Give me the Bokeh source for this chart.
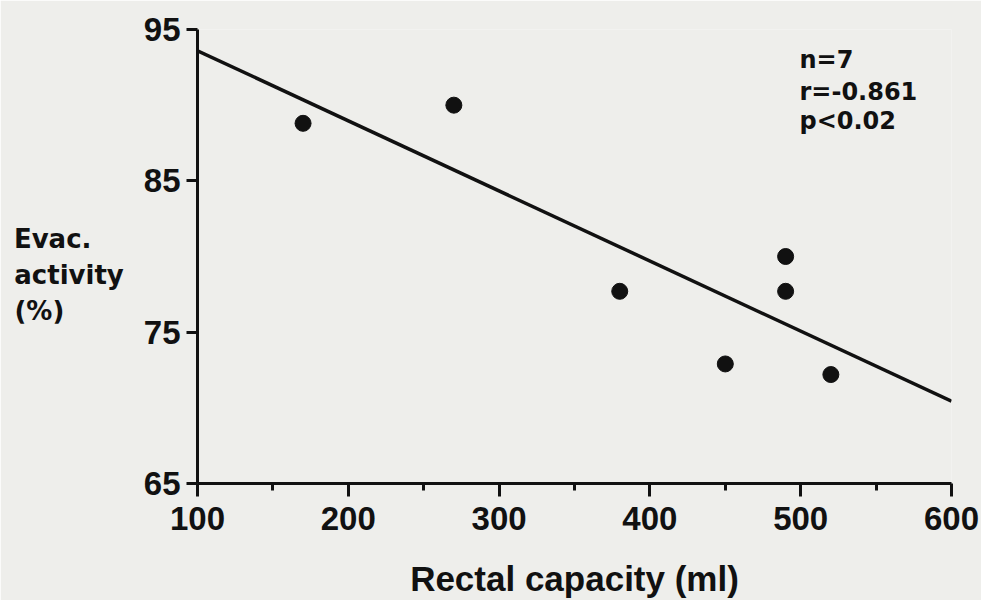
import numpy as np
from bokeh.plotting import figure
from bokeh.models import Range1d, FixedTicker, Label
from bokeh.embed import file_html
from bokeh.resources import INLINE

# ---- data ----
capacity_ml = [170, 270, 380, 450, 490, 490, 520]
evac_activity = [88.8, 90.0, 77.7, 72.9, 80.0, 77.7, 72.2]
x_ticks = [100, 200, 300, 400, 500, 600]
x_minor_ticks = [150, 250, 350, 450, 550]
y_ticks = [65, 75, 85, 95]
stats_lines = ["n=7", "r=-0.861", "p<0.02"]
ylabel_lines = ["Evac.", "activity", "(%)"]
x_title = "Rectal capacity (ml)"
x_lim = (100, 600)
y_lim = (65, 95)

# least-squares regression line through the points
slope, intercept = np.polyfit(capacity_ml, evac_activity, 1)
fit_x = list(x_lim)
fit_y = [slope * v + intercept for v in fit_x]

INK = "#111111"
PAPER = "#eeeeeb"
FW, FH = 981, 600
L, T, R, B = 197, 29, 30, 114
W, H = FW - L - R, FH - T - B

p = figure(width=FW, height=FH, output_backend="svg", toolbar_location=None,
           x_range=Range1d(*x_lim), y_range=Range1d(*y_lim),
           min_border_left=L, min_border_right=R, min_border_top=T, min_border_bottom=B)
p.background_fill_color = PAPER
p.border_fill_color = PAPER
p.outline_line_color = None
p.grid.visible = False

# x axis
xa = p.xaxis[0]
xa.ticker = FixedTicker(ticks=x_ticks, minor_ticks=x_minor_ticks)
xa.axis_line_width = 3
xa.axis_line_color = INK
xa.major_tick_line_width = 3
xa.major_tick_line_color = INK
xa.minor_tick_line_width = 3
xa.minor_tick_line_color = INK
xa.major_tick_out = 13
xa.major_tick_in = 0
xa.minor_tick_out = 7
xa.minor_tick_in = 0
xa.major_label_text_font = "Liberation Sans"
xa.major_label_text_font_style = "bold"
xa.major_label_text_font_size = "33px"
xa.major_label_text_color = INK
xa.major_label_standoff = 10
xa.axis_label = x_title
xa.axis_label_text_font = "Liberation Sans"
xa.axis_label_text_font_style = "bold"
xa.axis_label_text_font_size = "35px"
xa.axis_label_text_color = INK
xa.axis_label_standoff = 26

# y axis: multi-line horizontal label; lines padded with non-collapsing
# spaces so that they line up on the left like the reference
NBSP, THIN = "\u00a0", "\u2009"
ylabel_padded = [
    ylabel_lines[0] + NBSP * 3 + THIN,
    ylabel_lines[1],
    ylabel_lines[2] + NBSP * 6 + THIN,
]
ya = p.yaxis[0]
ya.ticker = FixedTicker(ticks=y_ticks, minor_ticks=[])
ya.axis_line_width = 3
ya.axis_line_color = INK
ya.major_tick_line_width = 3
ya.major_tick_line_color = INK
ya.major_tick_out = 11
ya.major_tick_in = 0
ya.minor_tick_line_color = None
ya.major_label_text_font = "Liberation Sans"
ya.major_label_text_font_style = "bold"
ya.major_label_text_font_size = "33px"
ya.major_label_text_color = INK
ya.major_label_standoff = 6
ya.axis_label = "\n" + "\n".join(ylabel_padded)
ya.axis_label_orientation = "horizontal"
ya.axis_label_text_font = "DejaVu Sans"
ya.axis_label_text_font_style = "bold"
ya.axis_label_text_font_size = "26px"
ya.axis_label_text_color = INK
ya.axis_label_standoff = 17

# regression line and points
p.line(fit_x, fit_y, line_width=3.5, line_color=INK)
p.scatter(capacity_ml, evac_activity, size=16, fill_color=INK, line_color=INK)

# helpers: figure pixel -> data coordinate (for text placement)
def dx(px):
    return x_lim[0] + (px - L) / W * (x_lim[1] - x_lim[0])

def dy(py):
    return y_lim[1] - (py - T) / H * (y_lim[1] - y_lim[0])

stats_centres = [60, 92, 121]
for txt, cy in zip(stats_lines, stats_centres):
    p.add_layout(Label(x=dx(799), y=dy(cy), text=txt,
                       text_font="DejaVu Sans", text_font_style="bold",
                       text_font_size="24px", text_color=INK,
                       text_align="left", text_baseline="middle"))

open("out.html", "w").write(file_html(p, INLINE))
